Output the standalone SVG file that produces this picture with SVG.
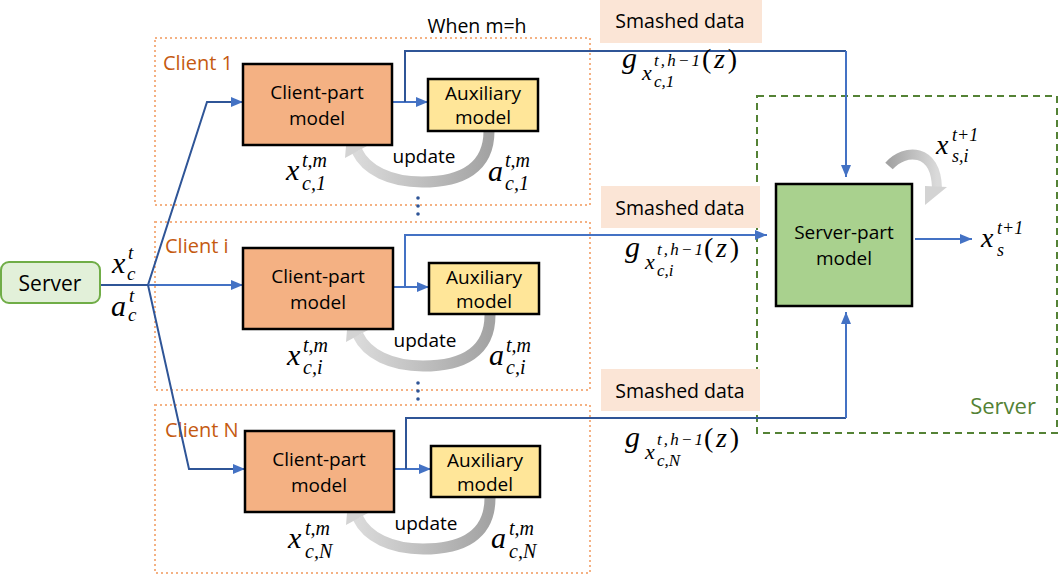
<svg xmlns="http://www.w3.org/2000/svg" width="1058" height="576" viewBox="0 0 1058 576">
<style>
.lbl{font-family:"Open Sans","Noto Sans","Liberation Sans",sans-serif;fill:#000;}
.m{font-family:"Liberation Serif","DejaVu Serif",serif;font-style:italic;fill:#000;}
.mu{font-family:"Liberation Serif","DejaVu Serif",serif;fill:#000;}
.clab{font-family:"Open Sans","Noto Sans","Liberation Sans",sans-serif;fill:#C55A11;font-size:20px;}
.cbox{fill:none;stroke:#F4B183;stroke-width:2;stroke-dasharray:2 3;}
.cpm{fill:#F4B183;stroke:#000;stroke-width:2.5;}
.aux{fill:#FFE699;stroke:#000;stroke-width:2.5;}
.sm{fill:#FBE5D6;}
.bl{fill:none;stroke:#4472C4;stroke-width:2;}
.bd{fill:none;stroke:#2F5597;stroke-width:2;}
.upd{fill:none;stroke:url(#gUpd);stroke-width:11;}
.dot{fill:#2F5597;}
</style>
<defs>
<marker id="ah" viewBox="0 0 12 10" refX="12" refY="5" markerWidth="12" markerHeight="10" markerUnits="userSpaceOnUse" orient="auto">
<path d="M0,0 L12,5 L0,10 Z" fill="#4472C4"/>
</marker>
<linearGradient id="gUpd" x1="0" y1="0" x2="1" y2="0">
<stop offset="0" stop-color="#DADADA"/>
<stop offset="1" stop-color="#A3A3A3"/>
</linearGradient>
<linearGradient id="gSelf" x1="0" y1="0" x2="1" y2="0">
<stop offset="0" stop-color="#A3A3A3"/>
<stop offset="1" stop-color="#DADADA"/>
</linearGradient>
</defs>

<!-- client group frames -->
<g id="client1">
<rect class="cbox" x="155" y="38" width="435" height="167"/>
<text class="clab" x="163" y="70">Client 1</text>
</g>
<g id="clienti">
<rect class="cbox" x="155" y="222" width="435" height="168"/>
<text class="clab" x="165" y="253">Client i</text>
</g>
<g id="clientN">
<rect class="cbox" x="155" y="405" width="435" height="168"/>
<text class="clab" x="165" y="437">Client N</text>
</g>

<!-- server dashed frame -->
<g id="serverframe">
<rect x="757" y="96" width="300" height="337" fill="none" stroke="#548235" stroke-width="2" stroke-dasharray="7 5"/>
<text x="1003" y="414" text-anchor="middle" style="font-family:'Open Sans','Noto Sans',sans-serif;font-size:22px;fill:#548235">Server</text>
</g>

<!-- smashed data labels -->
<g id="smashed1"><rect class="sm" x="600" y="0" width="162" height="43"/><text class="lbl" x="680" y="28" text-anchor="middle" font-size="19.5">Smashed data</text></g>
<g id="smashed2"><rect class="sm" x="601" y="186" width="159" height="42"/><text class="lbl" x="680" y="215" text-anchor="middle" font-size="19.5">Smashed data</text></g>
<g id="smashed3"><rect class="sm" x="601" y="369" width="159" height="42"/><text class="lbl" x="680" y="398" text-anchor="middle" font-size="19.5">Smashed data</text></g>

<text class="lbl" x="477" y="33" text-anchor="middle" font-size="19.5">When m=h</text>

<!-- connectors -->
<g id="connectors">
<path class="bd" d="M100,285 H148"/>
<path class="bd" d="M148,285 L207,102 H243" marker-end="url(#ah)"/>
<path class="bl" d="M148,285 H243" marker-end="url(#ah)"/>
<path class="bd" d="M148,285 L189,469 H245" marker-end="url(#ah)"/>

<path class="bl" d="M393,102 H428" marker-end="url(#ah)"/>
<path class="bd" d="M405,102 V51 H846"/>
<path class="bl" d="M846,51 V177" marker-end="url(#ah)"/>

<path class="bl" d="M393,287 H429" marker-end="url(#ah)"/>
<path class="bl" d="M405,287 V235 H767" marker-end="url(#ah)"/>

<path class="bl" d="M394,469 H431" marker-end="url(#ah)"/>
<path class="bd" d="M406,469 V418 H846"/>
<path class="bl" d="M846,418 V312" marker-end="url(#ah)"/>

<path class="bl" d="M915,239 H972" marker-end="url(#ah)"/>

<!-- update arrows -->
<path class="upd" d="M489,131 C489,168 462,182 422,182 C390,182 366,170 357,151"/>
<polygon points="347,134 367,146 345,158" fill="#D3D3D3"/>
<path class="upd" d="M490,315 C490,352 463,366 423,366 C391,366 367,354 358,335"/>
<polygon points="348,318 368,330 346,342" fill="#D3D3D3"/>
<path class="upd" d="M490,498 C490,535 463,549 423,549 C391,549 367,537 358,518"/>
<polygon points="348,501 368,513 346,525" fill="#D3D3D3"/>

<!-- server self loop -->
<path d="M889,166 C905,148 936,148 937,188" fill="none" stroke="url(#gSelf)" stroke-width="10"/>
<polygon points="925,205 925,186 947,187" fill="#D3D3D3"/>
</g>

<!-- dots -->
<g id="dots1"><circle class="dot" cx="418" cy="198" r="1.8"/><circle class="dot" cx="418" cy="206" r="1.8"/><circle class="dot" cx="418" cy="214" r="1.8"/></g>
<g id="dots2"><circle class="dot" cx="418" cy="383" r="1.8"/><circle class="dot" cx="418" cy="391" r="1.8"/><circle class="dot" cx="418" cy="399" r="1.8"/></g>

<!-- server node -->
<g id="server">
<rect x="1" y="262" width="99" height="41" rx="8" fill="#E2F0D9" stroke="#70AD47" stroke-width="2"/>
<text class="lbl" x="50" y="291" text-anchor="middle" font-size="21">Server</text>
</g>

<!-- client-part models -->
<g id="cpm1"><rect class="cpm" x="243" y="64" width="149" height="81"/><text class="lbl" x="317" y="99" text-anchor="middle" font-size="19">Client-part</text><text class="lbl" x="317" y="125" text-anchor="middle" font-size="19">model</text></g>
<g id="cpmi"><rect class="cpm" x="243" y="248" width="150" height="81"/><text class="lbl" x="318" y="283" text-anchor="middle" font-size="19">Client-part</text><text class="lbl" x="318" y="309" text-anchor="middle" font-size="19">model</text></g>
<g id="cpmN"><rect class="cpm" x="245" y="431" width="149" height="81"/><text class="lbl" x="319" y="466" text-anchor="middle" font-size="19">Client-part</text><text class="lbl" x="319" y="492" text-anchor="middle" font-size="19">model</text></g>

<!-- auxiliary models -->
<g id="aux1"><rect class="aux" x="428" y="79" width="110" height="52"/><text class="lbl" x="483" y="100" text-anchor="middle" font-size="19">Auxiliary</text><text class="lbl" x="483" y="124" text-anchor="middle" font-size="19">model</text></g>
<g id="auxi"><rect class="aux" x="429" y="263" width="110" height="51"/><text class="lbl" x="484" y="284" text-anchor="middle" font-size="19">Auxiliary</text><text class="lbl" x="484" y="308" text-anchor="middle" font-size="19">model</text></g>
<g id="auxN"><rect class="aux" x="431" y="446" width="109" height="51"/><text class="lbl" x="485" y="467" text-anchor="middle" font-size="19">Auxiliary</text><text class="lbl" x="485" y="491" text-anchor="middle" font-size="19">model</text></g>

<!-- server-part model -->
<g id="spm"><rect x="776" y="184" width="136" height="122" fill="#A9D18E" stroke="#000" stroke-width="2.5"/><text class="lbl" x="844" y="239" text-anchor="middle" font-size="19">Server-part</text><text class="lbl" x="844" y="265" text-anchor="middle" font-size="19">model</text></g>

<!-- update labels -->
<text class="lbl" x="424" y="163" text-anchor="middle" font-size="19">update</text>
<text class="lbl" x="425" y="347" text-anchor="middle" font-size="19">update</text>
<text class="lbl" x="426" y="530" text-anchor="middle" font-size="19">update</text>

<!-- math labels -->
<g id="math">
<text class="m" x="112" y="273" font-size="30">x</text>
<text class="m" x="128" y="259" font-size="19">t</text>
<text class="m" x="127" y="280" font-size="19">c</text>
<text class="m" x="111" y="316" font-size="30">a</text>
<text class="m" x="129" y="302" font-size="19">t</text>
<text class="m" x="128" y="321" font-size="19">c</text>

<text class="m" x="286" y="180" font-size="30">x</text>
<text class="m" x="302" y="167" font-size="20">t,m</text>
<text class="m" x="302" y="190" font-size="20">c,<tspan class="mu">1</tspan></text>
<text class="m" x="488" y="181" font-size="30">a</text>
<text class="m" x="505" y="167" font-size="20">t,m</text>
<text class="m" x="505" y="190" font-size="20">c,<tspan class="mu">1</tspan></text>

<text class="m" x="287" y="365" font-size="30">x</text>
<text class="m" x="303" y="352" font-size="20">t,m</text>
<text class="m" x="303" y="374" font-size="20">c,i</text>
<text class="m" x="489" y="365" font-size="30">a</text>
<text class="m" x="506" y="352" font-size="20">t,m</text>
<text class="m" x="506" y="374" font-size="20">c,i</text>

<text class="m" x="288" y="548" font-size="30">x</text>
<text class="m" x="305" y="535" font-size="20">t,m</text>
<text class="m" x="305" y="558" font-size="20">c,N</text>
<text class="m" x="491" y="548" font-size="30">a</text>
<text class="m" x="509" y="535" font-size="20">t,m</text>
<text class="m" x="509" y="558" font-size="20">c,N</text>

<text class="m" x="622" y="68" font-size="30">g</text>
<text class="m" x="642" y="80" font-size="22">x</text>
<text class="m" x="654" y="66" font-size="17" textLength="46" lengthAdjust="spacing">t,h<tspan class="mu">−1</tspan></text>
<text class="m" x="654" y="87" font-size="17">c,<tspan class="mu">1</tspan></text>
<text class="mu" x="702" y="68" font-size="28" textLength="35" lengthAdjust="spacing">(<tspan class="m">z</tspan>)</text>

<text class="m" x="625" y="257" font-size="30">g</text>
<text class="m" x="645" y="269" font-size="22">x</text>
<text class="m" x="657" y="255" font-size="17" textLength="46" lengthAdjust="spacing">t,h<tspan class="mu">−1</tspan></text>
<text class="m" x="657" y="276" font-size="17">c,i</text>
<text class="mu" x="704" y="257" font-size="28" textLength="35" lengthAdjust="spacing">(<tspan class="m">z</tspan>)</text>

<text class="m" x="625" y="447" font-size="30">g</text>
<text class="m" x="645" y="459" font-size="22">x</text>
<text class="m" x="657" y="445" font-size="17" textLength="46" lengthAdjust="spacing">t,h<tspan class="mu">−1</tspan></text>
<text class="m" x="657" y="466" font-size="17">c,N</text>
<text class="mu" x="704" y="447" font-size="28" textLength="35" lengthAdjust="spacing">(<tspan class="m">z</tspan>)</text>

<text class="m" x="936" y="154" font-size="28">x</text>
<text class="m" x="952" y="141" font-size="18">t<tspan class="mu">+1</tspan></text>
<text class="m" x="952" y="162" font-size="18">s,i</text>

<text class="m" x="981" y="247" font-size="28">x</text>
<text class="m" x="997" y="234" font-size="18">t<tspan class="mu">+1</tspan></text>
<text class="m" x="997" y="256" font-size="18">s</text>
</g>
</svg>
